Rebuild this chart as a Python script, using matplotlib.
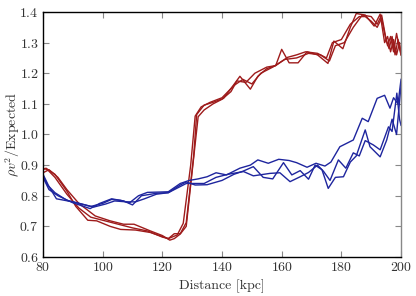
import matplotlib
matplotlib.use('Agg')
import matplotlib.pyplot as plt

plt.rcParams['font.family'] = 'serif'
plt.rcParams['font.serif'] = ['cmr10', 'DejaVu Serif']
plt.rcParams['mathtext.fontset'] = 'cm'
plt.rcParams['axes.formatter.use_mathtext'] = True
plt.rcParams['font.size'] = 10

# red runs
red1_x = [80, 81, 84, 88, 91, 95, 98, 102.5, 106, 111, 116, 119, 122, 124, 126, 128, 130.5, 131.5, 134, 137,
          140.5, 143, 146, 149.5, 152, 155, 158, 160, 162.5, 165.5, 168.5, 172, 175.5, 177.5, 180.5, 183, 185,
          188, 191, 193, 194.5, 195.5, 196.5, 197.5, 198.5, 199.5, 200]
red1_y = [0.885, 0.89, 0.87, 0.815, 0.765, 0.72, 0.718, 0.70, 0.69, 0.688, 0.68, 0.67, 0.66, 0.676, 0.676, 0.712,
          0.93, 1.065, 1.096, 1.105, 1.118, 1.15, 1.19, 1.148, 1.19, 1.215, 1.225, 1.278, 1.234, 1.234, 1.27, 1.26,
          1.232, 1.305, 1.28, 1.35, 1.395, 1.39, 1.354, 1.393, 1.30, 1.32, 1.27, 1.31, 1.26, 1.30, 1.26]

red2_x = [80, 82, 85, 88, 92, 97.5, 102.5, 107, 110.5, 116, 120, 122.5, 124, 126, 128, 130, 132, 134, 137, 140,
          143, 145, 148, 151, 155, 158, 162, 165, 168, 172, 175, 177, 180, 183, 186, 188, 190, 192, 193.5, 194.5,
          195.5, 196.5, 197.5, 198.5, 199.5, 200]
red2_y = [0.875, 0.885, 0.86, 0.82, 0.775, 0.734, 0.718, 0.707, 0.707, 0.685, 0.67, 0.655, 0.66, 0.675, 0.70,
          0.88, 1.058, 1.08, 1.10, 1.115, 1.14, 1.175, 1.17, 1.20, 1.22, 1.225, 1.252, 1.26, 1.27, 1.265, 1.25,
          1.30, 1.31, 1.36, 1.385, 1.385, 1.37, 1.35, 1.38, 1.33, 1.29, 1.32, 1.27, 1.33, 1.28, 1.26]

red3_x = [80, 81.5, 84, 88, 92, 96, 100, 104, 110, 115, 120, 122, 125, 127, 129.5, 131, 133, 136, 140, 144, 147,
          150, 153, 157, 161, 165, 169, 173, 176, 178, 181, 184, 187, 190, 192, 193.5, 195, 196, 197, 198, 199, 200]
red3_y = [0.89, 0.885, 0.86, 0.805, 0.76, 0.73, 0.72, 0.71, 0.695, 0.685, 0.665, 0.66, 0.672, 0.71, 0.90, 1.06,
          1.09, 1.105, 1.12, 1.16, 1.18, 1.165, 1.20, 1.22, 1.245, 1.25, 1.265, 1.26, 1.24, 1.29, 1.30, 1.35, 1.39,
          1.385, 1.36, 1.39, 1.31, 1.28, 1.32, 1.26, 1.31, 1.27]

# blue runs
blue1_x = [80, 82, 84.5, 90, 96, 100, 103, 106, 109, 112, 115, 119, 122, 126, 129, 132, 135, 138, 141.5, 146,
           149.5, 152, 155.5, 159, 162.5, 165, 168.5, 171.5, 174.5, 176.5, 179.5, 184, 187, 189, 192, 194.5,
           196.3, 197.5, 199, 200]
blue1_y = [0.87, 0.83, 0.79, 0.78, 0.765, 0.775, 0.788, 0.785, 0.777, 0.80, 0.811, 0.812, 0.813, 0.84, 0.85,
           0.855, 0.862, 0.875, 0.868, 0.89, 0.90, 0.917, 0.906, 0.919, 0.915, 0.908, 0.893, 0.906, 0.897, 0.91,
           0.96, 0.982, 1.053, 1.042, 1.118, 1.128, 1.086, 1.12, 1.10, 1.18]

blue2_x = [80, 82, 85, 90, 95.8, 99, 103, 107, 110, 113, 118, 122, 126, 128, 131, 135, 140, 144, 147, 150.5,
           153.8, 157, 160.6, 163.4, 166.2, 169, 171.2, 173.5, 175.6, 178, 180.7, 183, 185, 188, 189.6, 193,
           195.2, 197, 198.5, 200]
blue2_y = [0.86, 0.82, 0.80, 0.777, 0.758, 0.775, 0.79, 0.783, 0.77, 0.80, 0.808, 0.81, 0.835, 0.845, 0.835,
           0.836, 0.85, 0.87, 0.88, 0.895, 0.86, 0.855, 0.908, 0.868, 0.882, 0.854, 0.90, 0.885, 0.824, 0.86,
           0.862, 0.91, 0.93, 1.015, 0.96, 0.927, 0.982, 1.05, 1.00, 1.16]

blue3_x = [80, 81.5, 84, 88, 93, 97, 101, 104, 108, 111, 114, 118, 122, 125, 128, 131, 134, 138, 142, 147.2,
           150.5, 156.1, 159.4, 162.8, 166.2, 169, 172, 174, 176.2, 179, 181.5, 184, 186, 188, 190.7, 193, 195.8,
           197, 198.6, 199.5, 200]
blue3_y = [0.865, 0.835, 0.81, 0.785, 0.773, 0.763, 0.773, 0.783, 0.78, 0.78, 0.79, 0.805, 0.81, 0.825, 0.84,
           0.84, 0.84, 0.86, 0.87, 0.879, 0.865, 0.873, 0.875, 0.846, 0.862, 0.876, 0.90, 0.88, 0.85, 0.917, 0.89,
           0.94, 0.93, 0.98, 0.966, 0.95, 1.025, 1.01, 1.135, 1.05, 1.03]

RED = '#9e1b1b'
BLUE = '#1e259e'

fig = plt.figure(figsize=(4.16, 2.96), dpi=100)
ax = fig.add_axes([0.1034, 0.1318, 0.8606, 0.8277])

for xs, ys in [(red1_x, red1_y), (red2_x, red2_y), (red3_x, red3_y)]:
    ax.plot(xs, ys, color=RED, lw=1)
for xs, ys in [(blue1_x, blue1_y), (blue2_x, blue2_y), (blue3_x, blue3_y)]:
    ax.plot(xs, ys, color=BLUE, lw=1)

ax.set_xlim(80, 200)
ax.set_ylim(0.6, 1.4)
ax.set_xticks([80, 100, 120, 140, 160, 180, 200])
ax.set_yticks([0.6, 0.7, 0.8, 0.9, 1.0, 1.1, 1.2, 1.3, 1.4])
ax.tick_params(direction='in', top=True, right=True, length=4, width=0.8, pad=3, colors='#888888',
               labelcolor='#333333')
for s in ax.spines.values():
    s.set_linewidth(1)
ax.spines['right'].set_color('#888888')

ax.set_xlabel('Distance [kpc]', color='#333333')
ax.set_ylabel(r'$\rho v^2$/Expected', color='#333333')
ax.yaxis.set_label_coords(-0.06, 0.5)

fig.savefig('out.png', dpi=100)
